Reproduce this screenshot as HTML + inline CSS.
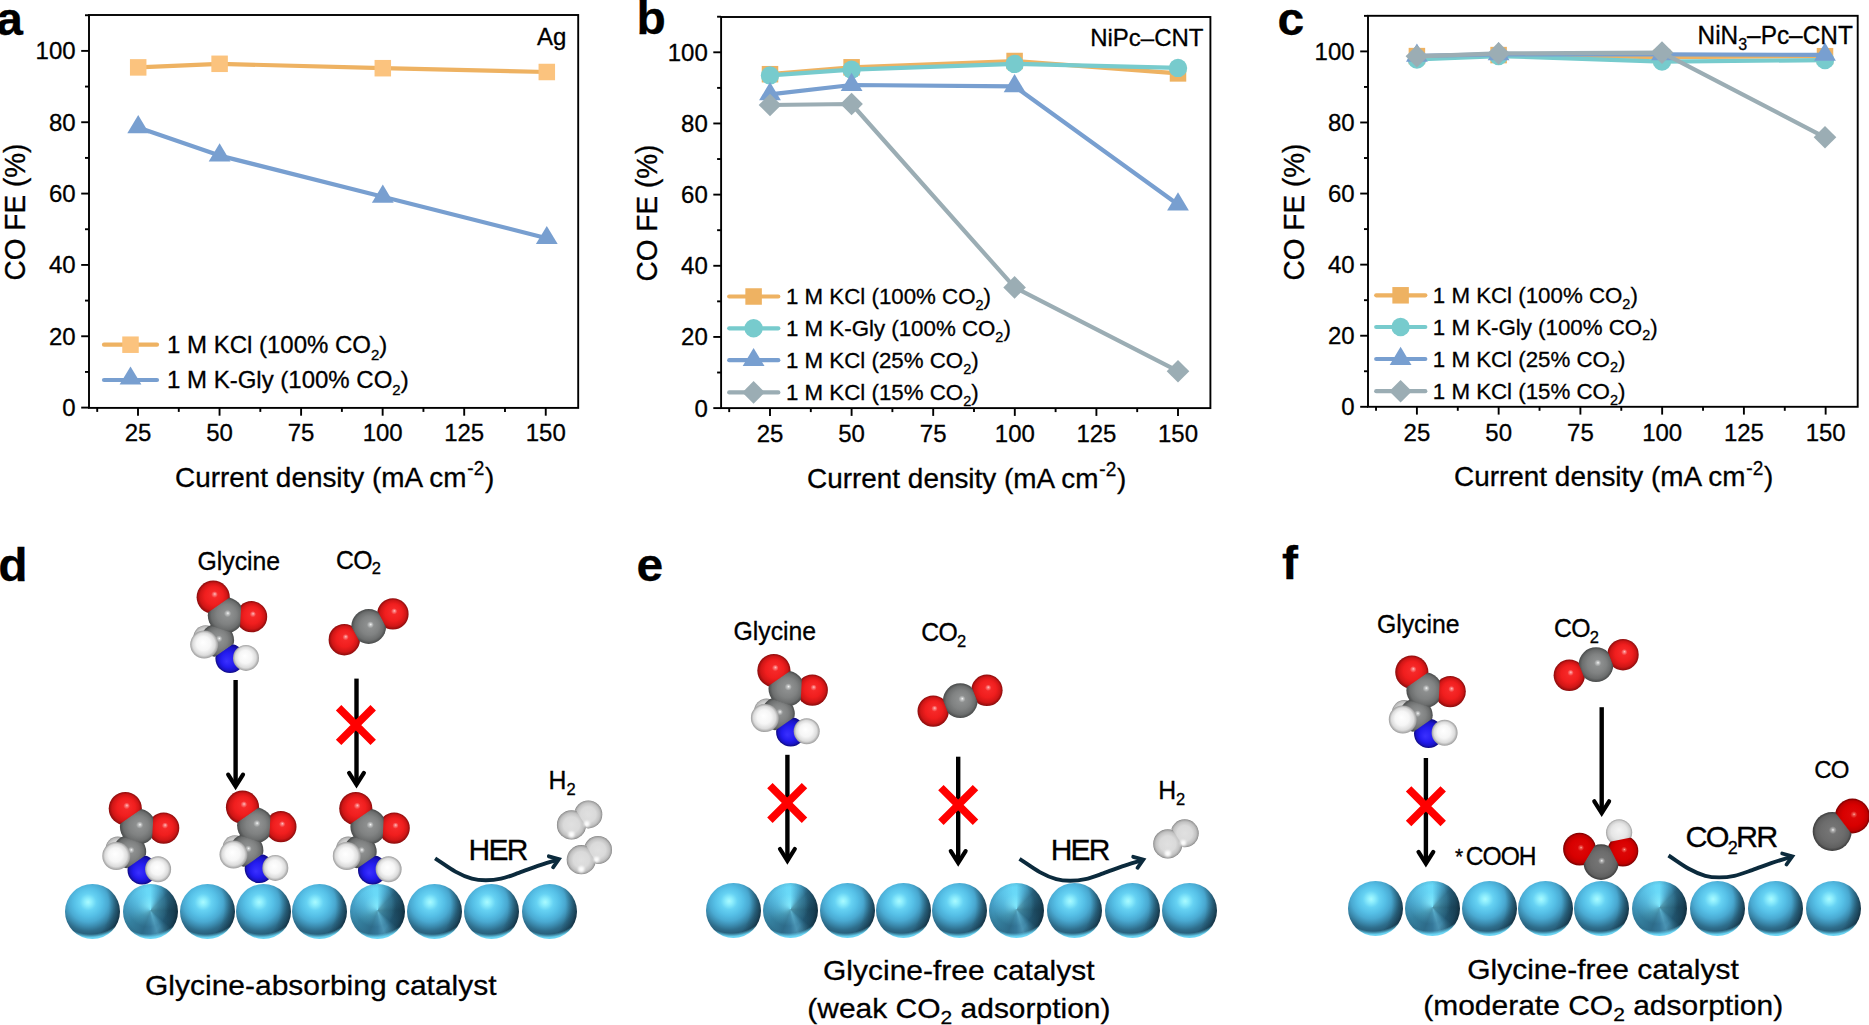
<!DOCTYPE html>
<html lang="en"><head><meta charset="utf-8"><title>Figure</title>
<style>
html,body{margin:0;padding:0;background:#fff;}
#fig{position:relative;width:1869px;height:1025px;overflow:hidden;background:#fff;font-family:"Liberation Sans", Arial, Helvetica, sans-serif;}
#fig svg{position:absolute;left:0;top:0;}
#fig svg text{font-family:"Liberation Sans", Arial, Helvetica, sans-serif;fill:#000;stroke:#000;stroke-width:0.3px;}
.sp{position:absolute;border-radius:50%;
 background:
  radial-gradient(circle 47px at 46% 15%, rgba(104,214,250,0) 89%, rgba(110,220,252,0.9) 96%, rgba(120,226,255,0.95) 100%),
  radial-gradient(circle 58px at 0% 40%, rgba(6,20,30,0) 76%, rgba(6,20,30,0.3) 90%, rgba(6,20,30,0.68) 100%),
  radial-gradient(circle 38px at 42% 33%, #aafaff 0%, #8eeefd 9%, #66d2f3 22%, #55bfe6 38%, #4aaad2 52%, #3c8db1 64%, #2e6d8b 76%, #265b76 88%, #1c4459 100%);
}
.sp.cone{
 background:
  radial-gradient(circle 47px at 46% 15%, rgba(104,214,250,0) 89%, rgba(110,220,252,0.9) 96%, rgba(120,226,255,0.95) 100%),
  radial-gradient(circle 58px at 0% 40%, rgba(6,20,30,0) 72%, rgba(6,20,30,0.3) 88%, rgba(6,20,30,0.7) 100%),
  radial-gradient(circle 30px at 46% 40%, rgba(150,245,255,0.55) 0%, rgba(120,230,255,0.25) 35%, rgba(0,0,0,0) 70%),
  radial-gradient(circle at 50% 50%, rgba(0,0,0,0) 60%, rgba(10,30,45,0.30) 100%),
  conic-gradient(from 0deg at 50% 48%, #66d6f6 0deg, #4aa8ce 20deg, #2c6a88 45deg, #1f5068 90deg, #235a76 130deg, #3f86a6 150deg, #4a93b3 163deg, #35789a 180deg, #2d6b89 200deg, #35809f 240deg, #459fc6 280deg, #58c0e6 320deg, #66d6f6 350deg, #66d6f6 360deg);
}
</style></head>
<body>
<div id="fig">
<div class="sp" style="left:64.9px;top:884.1px;width:55.0px;height:55.0px"></div>
<div class="sp cone" style="left:122.5px;top:884.1px;width:55.0px;height:55.0px"></div>
<div class="sp" style="left:180.1px;top:884.1px;width:55.0px;height:55.0px"></div>
<div class="sp" style="left:235.7px;top:884.1px;width:55.0px;height:55.0px"></div>
<div class="sp" style="left:292.3px;top:884.1px;width:55.0px;height:55.0px"></div>
<div class="sp cone" style="left:350.1px;top:884.1px;width:55.0px;height:55.0px"></div>
<div class="sp" style="left:407.3px;top:884.1px;width:55.0px;height:55.0px"></div>
<div class="sp" style="left:464.3px;top:884.1px;width:55.0px;height:55.0px"></div>
<div class="sp" style="left:522.1px;top:884.1px;width:55.0px;height:55.0px"></div>
<div class="sp" style="left:706.0px;top:882.9px;width:55.0px;height:55.0px"></div>
<div class="sp cone" style="left:762.7px;top:882.9px;width:55.0px;height:55.0px"></div>
<div class="sp" style="left:819.5px;top:882.9px;width:55.0px;height:55.0px"></div>
<div class="sp" style="left:875.7px;top:882.9px;width:55.0px;height:55.0px"></div>
<div class="sp" style="left:931.9px;top:882.9px;width:55.0px;height:55.0px"></div>
<div class="sp cone" style="left:989.3px;top:882.9px;width:55.0px;height:55.0px"></div>
<div class="sp" style="left:1047.1px;top:882.9px;width:55.0px;height:55.0px"></div>
<div class="sp" style="left:1104.5px;top:882.9px;width:55.0px;height:55.0px"></div>
<div class="sp" style="left:1162.3px;top:882.9px;width:55.0px;height:55.0px"></div>
<div class="sp" style="left:1347.8px;top:880.5px;width:55.0px;height:55.0px"></div>
<div class="sp cone" style="left:1404.7px;top:880.5px;width:55.0px;height:55.0px"></div>
<div class="sp" style="left:1462.3px;top:880.5px;width:55.0px;height:55.0px"></div>
<div class="sp" style="left:1517.7px;top:880.5px;width:55.0px;height:55.0px"></div>
<div class="sp" style="left:1574.3px;top:880.5px;width:55.0px;height:55.0px"></div>
<div class="sp cone" style="left:1631.9px;top:880.5px;width:55.0px;height:55.0px"></div>
<div class="sp" style="left:1689.5px;top:880.5px;width:55.0px;height:55.0px"></div>
<div class="sp" style="left:1747.5px;top:880.5px;width:55.0px;height:55.0px"></div>
<div class="sp" style="left:1805.5px;top:880.5px;width:55.0px;height:55.0px"></div>
<svg width="1869" height="1025" viewBox="0 0 1869 1025">

<defs>
<filter id="b1" x="-50%" y="-50%" width="200%" height="200%"><feGaussianBlur stdDeviation="0.9"/></filter>
<radialGradient id="gO" cx="0.5" cy="0.5" r="0.5" fx="0.55" fy="0.40">
 <stop offset="0" stop-color="#ffc4c4"/><stop offset="0.07" stop-color="#fb8080"/><stop offset="0.2" stop-color="#f62828"/><stop offset="0.55" stop-color="#f01e1e"/><stop offset="0.82" stop-color="#d01616"/><stop offset="1" stop-color="#8a0c0c"/>
</radialGradient>
<radialGradient id="gOd" cx="0.5" cy="0.5" r="0.5" fx="0.55" fy="0.45">
 <stop offset="0" stop-color="#ffb0a8"/><stop offset="0.07" stop-color="#ec5048"/><stop offset="0.2" stop-color="#dc0606"/><stop offset="0.6" stop-color="#d80000"/><stop offset="0.85" stop-color="#c00000"/><stop offset="1" stop-color="#780000"/>
</radialGradient>
<radialGradient id="gC" cx="0.5" cy="0.5" r="0.5" fx="0.56" fy="0.44">
 <stop offset="0" stop-color="#fafafa"/><stop offset="0.07" stop-color="#c4c6c6"/><stop offset="0.2" stop-color="#8d8f8f"/><stop offset="0.55" stop-color="#808282"/><stop offset="0.82" stop-color="#6c6e6e"/><stop offset="1" stop-color="#484a4a"/>
</radialGradient>
<radialGradient id="gCd" cx="0.5" cy="0.5" r="0.5" fx="0.52" fy="0.46">
 <stop offset="0" stop-color="#f4f4f4"/><stop offset="0.07" stop-color="#b0b0b0"/><stop offset="0.2" stop-color="#747474"/><stop offset="0.6" stop-color="#6c6c6c"/><stop offset="0.85" stop-color="#606060"/><stop offset="1" stop-color="#3c3c3c"/>
</radialGradient>
<radialGradient id="gH" cx="0.5" cy="0.5" r="0.5" fx="0.45" fy="0.42">
 <stop offset="0" stop-color="#ffffff"/><stop offset="0.5" stop-color="#f6f6f6"/><stop offset="0.8" stop-color="#dcdcdc"/><stop offset="1" stop-color="#9c9c9c"/>
</radialGradient>
<radialGradient id="gH3" cx="0.5" cy="0.5" r="0.5" fx="0.4" fy="0.35">
 <stop offset="0" stop-color="#dcdcdc"/><stop offset="0.6" stop-color="#cecece"/><stop offset="0.85" stop-color="#b8b8b8"/><stop offset="1" stop-color="#8c8c8c"/>
</radialGradient>
<radialGradient id="gH2" cx="0.5" cy="0.5" r="0.5" fx="0.5" fy="0.4">
 <stop offset="0" stop-color="#f4f4f4"/><stop offset="0.6" stop-color="#e6e6e6"/><stop offset="0.85" stop-color="#d0d0d0"/><stop offset="1" stop-color="#a0a0a0"/>
</radialGradient>
<radialGradient id="gN" cx="0.5" cy="0.5" r="0.5" fx="0.38" fy="0.6">
 <stop offset="0" stop-color="#3a30ff"/><stop offset="0.5" stop-color="#241cf0"/><stop offset="0.8" stop-color="#1a14c8"/><stop offset="1" stop-color="#0e0a80"/>
</radialGradient>
<radialGradient id="gL" cx="0.5" cy="0.5" r="0.5" fx="0.5" fy="0.5">
 <stop offset="0" stop-color="#e0e0e0"/><stop offset="0.55" stop-color="#dadada"/><stop offset="0.82" stop-color="#c2c2c2"/><stop offset="0.94" stop-color="#a4a4a4"/><stop offset="1" stop-color="#7c7c7c"/>
</radialGradient>
</defs>

<defs><g id="gly"><circle cx="-7.60" cy="40.20" r="12.20" fill="url(#gH3)"/><clipPath id="cp1"><polygon points="-60.00,-60.00 60.00,-60.00 60.00,-29.24 -60.00,54.29"/></clipPath><circle cx="0.00" cy="0.00" r="16.60" fill="url(#gO)" clip-path="url(#cp1)"/><clipPath id="cp2"><polygon points="29.93,-40.50 98.40,-40.50 98.40,79.50 23.42,79.50"/></clipPath><circle cx="38.40" cy="19.50" r="15.60" fill="url(#gO)" clip-path="url(#cp2)"/><clipPath id="cp3"><polygon points="76.80,6.51 76.80,121.30 -43.20,121.30 -43.20,90.05"/></clipPath><circle cx="16.80" cy="61.30" r="14.60" fill="url(#gN)" clip-path="url(#cp3)"/><clipPath id="cp4"><polygon points="-55.80,99.67 -55.80,9.69 31.49,38.91"/></clipPath><circle cx="4.20" cy="43.20" r="16.70" fill="url(#gC)" clip-path="url(#cp4)"/><clipPath id="cp5"><polygon points="-16.91,23.45 28.89,-8.44 26.38,37.93"/></clipPath><circle cx="12.60" cy="18.10" r="18.00" fill="url(#gC)" clip-path="url(#cp5)"/><circle cx="-9.00" cy="47.40" r="14.00" fill="url(#gH)"/><circle cx="32.80" cy="60.70" r="13.00" fill="url(#gH)"/></g></defs>
<rect x="89" y="15.0" width="489.20000000000005" height="392.9" fill="none" stroke="#000" stroke-width="1.9"/>
<line x1="81.2" y1="407.60" x2="89" y2="407.60" stroke="#000" stroke-width="1.9"/>
<text transform="translate(75.60,416.10) scale(1,1.02)" font-size="24" text-anchor="end" font-weight="normal" >0</text>
<line x1="85" y1="371.93" x2="89" y2="371.93" stroke="#000" stroke-width="1.9"/>
<line x1="81.2" y1="336.26" x2="89" y2="336.26" stroke="#000" stroke-width="1.9"/>
<text transform="translate(75.60,344.76) scale(1,1.02)" font-size="24" text-anchor="end" font-weight="normal" >20</text>
<line x1="85" y1="300.59" x2="89" y2="300.59" stroke="#000" stroke-width="1.9"/>
<line x1="81.2" y1="264.92" x2="89" y2="264.92" stroke="#000" stroke-width="1.9"/>
<text transform="translate(75.60,273.42) scale(1,1.02)" font-size="24" text-anchor="end" font-weight="normal" >40</text>
<line x1="85" y1="229.25" x2="89" y2="229.25" stroke="#000" stroke-width="1.9"/>
<line x1="81.2" y1="193.58" x2="89" y2="193.58" stroke="#000" stroke-width="1.9"/>
<text transform="translate(75.60,202.08) scale(1,1.02)" font-size="24" text-anchor="end" font-weight="normal" >60</text>
<line x1="85" y1="157.91" x2="89" y2="157.91" stroke="#000" stroke-width="1.9"/>
<line x1="81.2" y1="122.24" x2="89" y2="122.24" stroke="#000" stroke-width="1.9"/>
<text transform="translate(75.60,130.74) scale(1,1.02)" font-size="24" text-anchor="end" font-weight="normal" >80</text>
<line x1="85" y1="86.57" x2="89" y2="86.57" stroke="#000" stroke-width="1.9"/>
<line x1="81.2" y1="50.90" x2="89" y2="50.90" stroke="#000" stroke-width="1.9"/>
<text transform="translate(75.60,59.40) scale(1,1.02)" font-size="24" text-anchor="end" font-weight="normal" >100</text>
<line x1="85" y1="15.23" x2="89" y2="15.23" stroke="#000" stroke-width="1.9"/>
<line x1="97.22" y1="407.9" x2="97.22" y2="411.9" stroke="#000" stroke-width="1.9"/>
<line x1="138.00" y1="407.9" x2="138.00" y2="415.7" stroke="#000" stroke-width="1.9"/>
<text transform="translate(138.00,441.00) scale(1,1.02)" font-size="24" text-anchor="middle" font-weight="normal" >25</text>
<line x1="178.78" y1="407.9" x2="178.78" y2="411.9" stroke="#000" stroke-width="1.9"/>
<line x1="219.55" y1="407.9" x2="219.55" y2="415.7" stroke="#000" stroke-width="1.9"/>
<text transform="translate(219.55,441.00) scale(1,1.02)" font-size="24" text-anchor="middle" font-weight="normal" >50</text>
<line x1="260.32" y1="407.9" x2="260.32" y2="411.9" stroke="#000" stroke-width="1.9"/>
<line x1="301.10" y1="407.9" x2="301.10" y2="415.7" stroke="#000" stroke-width="1.9"/>
<text transform="translate(301.10,441.00) scale(1,1.02)" font-size="24" text-anchor="middle" font-weight="normal" >75</text>
<line x1="341.88" y1="407.9" x2="341.88" y2="411.9" stroke="#000" stroke-width="1.9"/>
<line x1="382.65" y1="407.9" x2="382.65" y2="415.7" stroke="#000" stroke-width="1.9"/>
<text transform="translate(382.65,441.00) scale(1,1.02)" font-size="24" text-anchor="middle" font-weight="normal" >100</text>
<line x1="423.43" y1="407.9" x2="423.43" y2="411.9" stroke="#000" stroke-width="1.9"/>
<line x1="464.20" y1="407.9" x2="464.20" y2="415.7" stroke="#000" stroke-width="1.9"/>
<text transform="translate(464.20,441.00) scale(1,1.02)" font-size="24" text-anchor="middle" font-weight="normal" >125</text>
<line x1="504.98" y1="407.9" x2="504.98" y2="411.9" stroke="#000" stroke-width="1.9"/>
<line x1="545.75" y1="407.9" x2="545.75" y2="415.7" stroke="#000" stroke-width="1.9"/>
<text transform="translate(545.75,441.00) scale(1,1.02)" font-size="24" text-anchor="middle" font-weight="normal" >150</text>
<text transform="translate(334.70,486.90) scale(1,1.02)" font-size="27.9" text-anchor="middle" font-weight="normal" >Current density (mA cm<tspan font-size="19" dy="-11.4" dx="0.8">-2</tspan><tspan dy="11.4" dx="0.8">)</tspan></text>
<text transform="translate(25.4,212) rotate(-90) scale(1,1.045)" font-size="28" text-anchor="middle">CO FE (%)</text>
<polyline points="138.20,67.40 219.60,63.80 382.80,68.20 546.80,72.00" fill="none" stroke="#EEB262" stroke-width="4.2" stroke-linejoin="round" stroke-linecap="round"/>
<rect x="129.95" y="59.15" width="16.5" height="16.5" fill="#FBC37E"/>
<rect x="211.35" y="55.55" width="16.5" height="16.5" fill="#FBC37E"/>
<rect x="374.55" y="59.95" width="16.5" height="16.5" fill="#FBC37E"/>
<rect x="538.55" y="63.75" width="16.5" height="16.5" fill="#FBC37E"/>
<polyline points="138.20,127.40 219.60,155.60 382.80,196.80 546.80,238.20" fill="none" stroke="#789FD0" stroke-width="4.2" stroke-linejoin="round" stroke-linecap="round"/>
<polygon points="138.20,115.10 127.30,133.30 149.10,133.30" fill="#789FD0"/>
<polygon points="219.60,143.30 208.70,161.50 230.50,161.50" fill="#789FD0"/>
<polygon points="382.80,184.50 371.90,202.70 393.70,202.70" fill="#789FD0"/>
<polygon points="546.80,225.90 535.90,244.10 557.70,244.10" fill="#789FD0"/>
<line x1="104" y1="344.7" x2="157" y2="344.7" stroke="#EEB262" stroke-width="4.2" stroke-linecap="round"/>
<rect x="122.25" y="336.45" width="16.5" height="16.5" fill="#FBC37E"/>
<text transform="translate(167.00,352.50) scale(1,1.02)" font-size="24" text-anchor="start" font-weight="normal" >1 M KCl (100% CO<tspan font-size="15" dy="7.0">2</tspan><tspan dy="-7.0">)</tspan></text>
<line x1="104" y1="380.0" x2="157" y2="380.0" stroke="#789FD0" stroke-width="4.2" stroke-linecap="round"/>
<polygon points="130.50,366.40 119.60,384.60 141.40,384.60" fill="#789FD0"/>
<text transform="translate(167.00,387.80) scale(1,1.02)" font-size="24" text-anchor="start" font-weight="normal" >1 M K-Gly (100% CO<tspan font-size="15" dy="7.0">2</tspan><tspan dy="-7.0">)</tspan></text>
<text transform="translate(566.30,44.80) scale(1,1.02)" font-size="24" text-anchor="end" font-weight="normal" >Ag</text>
<text transform="translate(-3.80,34.90) scale(1,0.965)" font-size="48" font-weight="bold">a</text>
<rect x="721.1" y="17.0" width="489.30000000000007" height="391.1" fill="none" stroke="#000" stroke-width="1.9"/>
<line x1="713.3000000000001" y1="408.10" x2="721.1" y2="408.10" stroke="#000" stroke-width="1.9"/>
<text transform="translate(707.80,416.60) scale(1,1.02)" font-size="24" text-anchor="end" font-weight="normal" >0</text>
<line x1="717.1" y1="372.52" x2="721.1" y2="372.52" stroke="#000" stroke-width="1.9"/>
<line x1="713.3000000000001" y1="336.94" x2="721.1" y2="336.94" stroke="#000" stroke-width="1.9"/>
<text transform="translate(707.80,345.44) scale(1,1.02)" font-size="24" text-anchor="end" font-weight="normal" >20</text>
<line x1="717.1" y1="301.36" x2="721.1" y2="301.36" stroke="#000" stroke-width="1.9"/>
<line x1="713.3000000000001" y1="265.78" x2="721.1" y2="265.78" stroke="#000" stroke-width="1.9"/>
<text transform="translate(707.80,274.28) scale(1,1.02)" font-size="24" text-anchor="end" font-weight="normal" >40</text>
<line x1="717.1" y1="230.20" x2="721.1" y2="230.20" stroke="#000" stroke-width="1.9"/>
<line x1="713.3000000000001" y1="194.62" x2="721.1" y2="194.62" stroke="#000" stroke-width="1.9"/>
<text transform="translate(707.80,203.12) scale(1,1.02)" font-size="24" text-anchor="end" font-weight="normal" >60</text>
<line x1="717.1" y1="159.04" x2="721.1" y2="159.04" stroke="#000" stroke-width="1.9"/>
<line x1="713.3000000000001" y1="123.46" x2="721.1" y2="123.46" stroke="#000" stroke-width="1.9"/>
<text transform="translate(707.80,131.96) scale(1,1.02)" font-size="24" text-anchor="end" font-weight="normal" >80</text>
<line x1="717.1" y1="87.88" x2="721.1" y2="87.88" stroke="#000" stroke-width="1.9"/>
<line x1="713.3000000000001" y1="52.30" x2="721.1" y2="52.30" stroke="#000" stroke-width="1.9"/>
<text transform="translate(707.80,60.80) scale(1,1.02)" font-size="24" text-anchor="end" font-weight="normal" >100</text>
<line x1="717.1" y1="16.72" x2="721.1" y2="16.72" stroke="#000" stroke-width="1.9"/>
<line x1="729.20" y1="408.1" x2="729.20" y2="412.1" stroke="#000" stroke-width="1.9"/>
<line x1="770.00" y1="408.1" x2="770.00" y2="415.90000000000003" stroke="#000" stroke-width="1.9"/>
<text transform="translate(770.00,441.70) scale(1,1.02)" font-size="24" text-anchor="middle" font-weight="normal" >25</text>
<line x1="810.80" y1="408.1" x2="810.80" y2="412.1" stroke="#000" stroke-width="1.9"/>
<line x1="851.60" y1="408.1" x2="851.60" y2="415.90000000000003" stroke="#000" stroke-width="1.9"/>
<text transform="translate(851.60,441.70) scale(1,1.02)" font-size="24" text-anchor="middle" font-weight="normal" >50</text>
<line x1="892.40" y1="408.1" x2="892.40" y2="412.1" stroke="#000" stroke-width="1.9"/>
<line x1="933.20" y1="408.1" x2="933.20" y2="415.90000000000003" stroke="#000" stroke-width="1.9"/>
<text transform="translate(933.20,441.70) scale(1,1.02)" font-size="24" text-anchor="middle" font-weight="normal" >75</text>
<line x1="974.00" y1="408.1" x2="974.00" y2="412.1" stroke="#000" stroke-width="1.9"/>
<line x1="1014.80" y1="408.1" x2="1014.80" y2="415.90000000000003" stroke="#000" stroke-width="1.9"/>
<text transform="translate(1014.80,441.70) scale(1,1.02)" font-size="24" text-anchor="middle" font-weight="normal" >100</text>
<line x1="1055.60" y1="408.1" x2="1055.60" y2="412.1" stroke="#000" stroke-width="1.9"/>
<line x1="1096.40" y1="408.1" x2="1096.40" y2="415.90000000000003" stroke="#000" stroke-width="1.9"/>
<text transform="translate(1096.40,441.70) scale(1,1.02)" font-size="24" text-anchor="middle" font-weight="normal" >125</text>
<line x1="1137.20" y1="408.1" x2="1137.20" y2="412.1" stroke="#000" stroke-width="1.9"/>
<line x1="1178.00" y1="408.1" x2="1178.00" y2="415.90000000000003" stroke="#000" stroke-width="1.9"/>
<text transform="translate(1178.00,441.70) scale(1,1.02)" font-size="24" text-anchor="middle" font-weight="normal" >150</text>
<text transform="translate(966.70,487.60) scale(1,1.02)" font-size="27.9" text-anchor="middle" font-weight="normal" >Current density (mA cm<tspan font-size="19" dy="-11.4" dx="0.8">-2</tspan><tspan dy="11.4" dx="0.8">)</tspan></text>
<text transform="translate(657.4,213) rotate(-90) scale(1,1.045)" font-size="28" text-anchor="middle">CO FE (%)</text>
<polyline points="770.00,74.20 851.60,67.30 1014.60,61.00 1178.00,73.40" fill="none" stroke="#EEB262" stroke-width="4.2" stroke-linejoin="round" stroke-linecap="round"/>
<rect x="761.75" y="65.95" width="16.5" height="16.5" fill="#EEB262"/>
<rect x="843.35" y="59.05" width="16.5" height="16.5" fill="#EEB262"/>
<rect x="1006.35" y="52.75" width="16.5" height="16.5" fill="#EEB262"/>
<rect x="1169.75" y="65.15" width="16.5" height="16.5" fill="#EEB262"/>
<polyline points="770.00,75.40 851.60,69.70 1014.60,63.90 1178.00,67.90" fill="none" stroke="#77CBCD" stroke-width="4.2" stroke-linejoin="round" stroke-linecap="round"/>
<circle cx="770.00" cy="75.40" r="9.2" fill="#77CBCD"/>
<circle cx="851.60" cy="69.70" r="9.2" fill="#77CBCD"/>
<circle cx="1014.60" cy="63.90" r="9.2" fill="#77CBCD"/>
<circle cx="1178.00" cy="67.90" r="9.2" fill="#77CBCD"/>
<polyline points="770.00,94.40 851.60,85.00 1014.60,86.40 1178.00,204.50" fill="none" stroke="#789FD0" stroke-width="4.2" stroke-linejoin="round" stroke-linecap="round"/>
<polygon points="770.00,82.10 759.10,100.30 780.90,100.30" fill="#789FD0"/>
<polygon points="851.60,72.70 840.70,90.90 862.50,90.90" fill="#789FD0"/>
<polygon points="1014.60,74.10 1003.70,92.30 1025.50,92.30" fill="#789FD0"/>
<polygon points="1178.00,192.20 1167.10,210.40 1188.90,210.40" fill="#789FD0"/>
<polyline points="770.00,105.00 851.60,104.00 1014.60,287.40 1178.00,371.20" fill="none" stroke="#9BADB4" stroke-width="4.2" stroke-linejoin="round" stroke-linecap="round"/>
<polygon points="770.00,93.70 781.30,105.00 770.00,116.30 758.70,105.00" fill="#9BADB4"/>
<polygon points="851.60,92.70 862.90,104.00 851.60,115.30 840.30,104.00" fill="#9BADB4"/>
<polygon points="1014.60,276.10 1025.90,287.40 1014.60,298.70 1003.30,287.40" fill="#9BADB4"/>
<polygon points="1178.00,359.90 1189.30,371.20 1178.00,382.50 1166.70,371.20" fill="#9BADB4"/>
<line x1="729.2" y1="296.5" x2="778.3" y2="296.5" stroke="#EEB262" stroke-width="4.2" stroke-linecap="round"/>
<rect x="745.35" y="288.25" width="16.5" height="16.5" fill="#EEB262"/>
<text transform="translate(786.00,304.30) scale(1,1.02)" font-size="22.3" text-anchor="start" font-weight="normal" >1 M KCl (100% CO<tspan font-size="14.5" dy="5.4">2</tspan><tspan dy="-5.4">)</tspan></text>
<line x1="729.2" y1="328.3" x2="778.3" y2="328.3" stroke="#77CBCD" stroke-width="4.2" stroke-linecap="round"/>
<circle cx="753.60" cy="328.30" r="9.2" fill="#77CBCD"/>
<text transform="translate(786.00,336.10) scale(1,1.02)" font-size="22.3" text-anchor="start" font-weight="normal" >1 M K-Gly (100% CO<tspan font-size="14.5" dy="5.4">2</tspan><tspan dy="-5.4">)</tspan></text>
<line x1="729.2" y1="360.2" x2="778.3" y2="360.2" stroke="#789FD0" stroke-width="4.2" stroke-linecap="round"/>
<polygon points="753.60,347.90 742.70,366.10 764.50,366.10" fill="#789FD0"/>
<text transform="translate(786.00,368.00) scale(1,1.02)" font-size="22.3" text-anchor="start" font-weight="normal" >1 M KCl (25% CO<tspan font-size="14.5" dy="5.4">2</tspan><tspan dy="-5.4">)</tspan></text>
<line x1="729.2" y1="392.4" x2="778.3" y2="392.4" stroke="#9BADB4" stroke-width="4.2" stroke-linecap="round"/>
<polygon points="753.60,381.10 764.90,392.40 753.60,403.70 742.30,392.40" fill="#9BADB4"/>
<text transform="translate(786.00,400.20) scale(1,1.02)" font-size="22.3" text-anchor="start" font-weight="normal" >1 M KCl (15% CO<tspan font-size="14.5" dy="5.4">2</tspan><tspan dy="-5.4">)</tspan></text>
<text transform="translate(1203.50,45.80) scale(1,1.02)" font-size="24" text-anchor="end" font-weight="normal" >NiPc–CNT</text>
<text transform="translate(636.50,34.40) scale(1,0.965)" font-size="48" font-weight="bold">b</text>
<rect x="1368.0" y="15.8" width="489.70000000000005" height="391.0" fill="none" stroke="#000" stroke-width="1.9"/>
<line x1="1360.2" y1="406.80" x2="1368.0" y2="406.80" stroke="#000" stroke-width="1.9"/>
<text transform="translate(1354.60,415.30) scale(1,1.02)" font-size="24" text-anchor="end" font-weight="normal" >0</text>
<line x1="1364.0" y1="371.26" x2="1368.0" y2="371.26" stroke="#000" stroke-width="1.9"/>
<line x1="1360.2" y1="335.72" x2="1368.0" y2="335.72" stroke="#000" stroke-width="1.9"/>
<text transform="translate(1354.60,344.22) scale(1,1.02)" font-size="24" text-anchor="end" font-weight="normal" >20</text>
<line x1="1364.0" y1="300.18" x2="1368.0" y2="300.18" stroke="#000" stroke-width="1.9"/>
<line x1="1360.2" y1="264.64" x2="1368.0" y2="264.64" stroke="#000" stroke-width="1.9"/>
<text transform="translate(1354.60,273.14) scale(1,1.02)" font-size="24" text-anchor="end" font-weight="normal" >40</text>
<line x1="1364.0" y1="229.10" x2="1368.0" y2="229.10" stroke="#000" stroke-width="1.9"/>
<line x1="1360.2" y1="193.56" x2="1368.0" y2="193.56" stroke="#000" stroke-width="1.9"/>
<text transform="translate(1354.60,202.06) scale(1,1.02)" font-size="24" text-anchor="end" font-weight="normal" >60</text>
<line x1="1364.0" y1="158.02" x2="1368.0" y2="158.02" stroke="#000" stroke-width="1.9"/>
<line x1="1360.2" y1="122.48" x2="1368.0" y2="122.48" stroke="#000" stroke-width="1.9"/>
<text transform="translate(1354.60,130.98) scale(1,1.02)" font-size="24" text-anchor="end" font-weight="normal" >80</text>
<line x1="1364.0" y1="86.94" x2="1368.0" y2="86.94" stroke="#000" stroke-width="1.9"/>
<line x1="1360.2" y1="51.40" x2="1368.0" y2="51.40" stroke="#000" stroke-width="1.9"/>
<text transform="translate(1354.60,59.90) scale(1,1.02)" font-size="24" text-anchor="end" font-weight="normal" >100</text>
<line x1="1364.0" y1="15.86" x2="1368.0" y2="15.86" stroke="#000" stroke-width="1.9"/>
<line x1="1376.03" y1="406.8" x2="1376.03" y2="410.8" stroke="#000" stroke-width="1.9"/>
<line x1="1416.90" y1="406.8" x2="1416.90" y2="414.6" stroke="#000" stroke-width="1.9"/>
<text transform="translate(1416.90,440.60) scale(1,1.02)" font-size="24" text-anchor="middle" font-weight="normal" >25</text>
<line x1="1457.78" y1="406.8" x2="1457.78" y2="410.8" stroke="#000" stroke-width="1.9"/>
<line x1="1498.65" y1="406.8" x2="1498.65" y2="414.6" stroke="#000" stroke-width="1.9"/>
<text transform="translate(1498.65,440.60) scale(1,1.02)" font-size="24" text-anchor="middle" font-weight="normal" >50</text>
<line x1="1539.53" y1="406.8" x2="1539.53" y2="410.8" stroke="#000" stroke-width="1.9"/>
<line x1="1580.40" y1="406.8" x2="1580.40" y2="414.6" stroke="#000" stroke-width="1.9"/>
<text transform="translate(1580.40,440.60) scale(1,1.02)" font-size="24" text-anchor="middle" font-weight="normal" >75</text>
<line x1="1621.28" y1="406.8" x2="1621.28" y2="410.8" stroke="#000" stroke-width="1.9"/>
<line x1="1662.15" y1="406.8" x2="1662.15" y2="414.6" stroke="#000" stroke-width="1.9"/>
<text transform="translate(1662.15,440.60) scale(1,1.02)" font-size="24" text-anchor="middle" font-weight="normal" >100</text>
<line x1="1703.03" y1="406.8" x2="1703.03" y2="410.8" stroke="#000" stroke-width="1.9"/>
<line x1="1743.90" y1="406.8" x2="1743.90" y2="414.6" stroke="#000" stroke-width="1.9"/>
<text transform="translate(1743.90,440.60) scale(1,1.02)" font-size="24" text-anchor="middle" font-weight="normal" >125</text>
<line x1="1784.78" y1="406.8" x2="1784.78" y2="410.8" stroke="#000" stroke-width="1.9"/>
<line x1="1825.65" y1="406.8" x2="1825.65" y2="414.6" stroke="#000" stroke-width="1.9"/>
<text transform="translate(1825.65,440.60) scale(1,1.02)" font-size="24" text-anchor="middle" font-weight="normal" >150</text>
<text transform="translate(1613.70,486.40) scale(1,1.02)" font-size="27.9" text-anchor="middle" font-weight="normal" >Current density (mA cm<tspan font-size="19" dy="-11.4" dx="0.8">-2</tspan><tspan dy="11.4" dx="0.8">)</tspan></text>
<text transform="translate(1304.2,212) rotate(-90) scale(1,1.045)" font-size="28" text-anchor="middle">CO FE (%)</text>
<polyline points="1416.90,56.10 1498.60,55.10 1662.00,57.20 1825.00,56.20" fill="none" stroke="#EEB262" stroke-width="4.2" stroke-linejoin="round" stroke-linecap="round"/>
<rect x="1408.65" y="47.85" width="16.5" height="16.5" fill="#EEB262"/>
<rect x="1490.35" y="46.85" width="16.5" height="16.5" fill="#EEB262"/>
<rect x="1653.75" y="48.95" width="16.5" height="16.5" fill="#EEB262"/>
<rect x="1816.75" y="47.95" width="16.5" height="16.5" fill="#EEB262"/>
<polyline points="1416.90,59.50 1498.60,56.10 1662.00,61.60 1825.00,60.10" fill="none" stroke="#77CBCD" stroke-width="4.2" stroke-linejoin="round" stroke-linecap="round"/>
<circle cx="1416.90" cy="59.50" r="9.2" fill="#77CBCD"/>
<circle cx="1498.60" cy="56.10" r="9.2" fill="#77CBCD"/>
<circle cx="1662.00" cy="61.60" r="9.2" fill="#77CBCD"/>
<circle cx="1825.00" cy="60.10" r="9.2" fill="#77CBCD"/>
<polyline points="1416.90,55.80 1498.60,54.40 1662.00,54.40 1825.00,54.90" fill="none" stroke="#789FD0" stroke-width="4.2" stroke-linejoin="round" stroke-linecap="round"/>
<polygon points="1416.90,43.50 1406.00,61.70 1427.80,61.70" fill="#789FD0"/>
<polygon points="1498.60,42.10 1487.70,60.30 1509.50,60.30" fill="#789FD0"/>
<polygon points="1662.00,42.10 1651.10,60.30 1672.90,60.30" fill="#789FD0"/>
<polygon points="1825.00,42.60 1814.10,60.80 1835.90,60.80" fill="#789FD0"/>
<polyline points="1416.90,56.30 1498.60,53.40 1662.00,52.60 1825.00,137.30" fill="none" stroke="#9BADB4" stroke-width="4.2" stroke-linejoin="round" stroke-linecap="round"/>
<polygon points="1416.90,45.00 1428.20,56.30 1416.90,67.60 1405.60,56.30" fill="#9BADB4"/>
<polygon points="1498.60,42.10 1509.90,53.40 1498.60,64.70 1487.30,53.40" fill="#9BADB4"/>
<polygon points="1662.00,41.30 1673.30,52.60 1662.00,63.90 1650.70,52.60" fill="#9BADB4"/>
<polygon points="1825.00,126.00 1836.30,137.30 1825.00,148.60 1813.70,137.30" fill="#9BADB4"/>
<line x1="1376.2" y1="295.3" x2="1425.3" y2="295.3" stroke="#EEB262" stroke-width="4.2" stroke-linecap="round"/>
<rect x="1392.35" y="287.05" width="16.5" height="16.5" fill="#EEB262"/>
<text transform="translate(1432.80,303.10) scale(1,1.02)" font-size="22.3" text-anchor="start" font-weight="normal" >1 M KCl (100% CO<tspan font-size="14.5" dy="5.4">2</tspan><tspan dy="-5.4">)</tspan></text>
<line x1="1376.2" y1="327.0" x2="1425.3" y2="327.0" stroke="#77CBCD" stroke-width="4.2" stroke-linecap="round"/>
<circle cx="1400.60" cy="327.00" r="9.2" fill="#77CBCD"/>
<text transform="translate(1432.80,334.80) scale(1,1.02)" font-size="22.3" text-anchor="start" font-weight="normal" >1 M K-Gly (100% CO<tspan font-size="14.5" dy="5.4">2</tspan><tspan dy="-5.4">)</tspan></text>
<line x1="1376.2" y1="359.0" x2="1425.3" y2="359.0" stroke="#789FD0" stroke-width="4.2" stroke-linecap="round"/>
<polygon points="1400.60,346.70 1389.70,364.90 1411.50,364.90" fill="#789FD0"/>
<text transform="translate(1432.80,366.80) scale(1,1.02)" font-size="22.3" text-anchor="start" font-weight="normal" >1 M KCl (25% CO<tspan font-size="14.5" dy="5.4">2</tspan><tspan dy="-5.4">)</tspan></text>
<line x1="1376.2" y1="391.2" x2="1425.3" y2="391.2" stroke="#9BADB4" stroke-width="4.2" stroke-linecap="round"/>
<polygon points="1400.60,379.90 1411.90,391.20 1400.60,402.50 1389.30,391.20" fill="#9BADB4"/>
<text transform="translate(1432.80,399.00) scale(1,1.02)" font-size="22.3" text-anchor="start" font-weight="normal" >1 M KCl (15% CO<tspan font-size="14.5" dy="5.4">2</tspan><tspan dy="-5.4">)</tspan></text>
<text transform="translate(1852.80,43.50) scale(1,1.02)" font-size="24.4" text-anchor="end" font-weight="normal" >NiN<tspan font-size="16" dy="6">3</tspan><tspan dy="-6">–Pc–CNT</tspan></text>
<text transform="translate(1277.40,34.80) scale(1,0.965)" font-size="48" font-weight="bold">c</text>
<text transform="translate(-1.70,580.60) scale(1,0.965)" font-size="48" font-weight="bold">d</text>
<text transform="translate(197.50,569.60) scale(1,1.02)" font-size="24.8" text-anchor="start" font-weight="normal" >Glycine</text>
<text transform="translate(336.00,568.80) scale(1,1.02)" font-size="24.8" text-anchor="start" font-weight="normal" letter-spacing="-0.7">CO<tspan font-size="16.5" dy="5.3">2</tspan></text>
<use href="#gly" x="213.20" y="597.20"/>
<clipPath id="cp6"><polygon points="284.30,579.70 326.86,579.70 391.77,699.70 284.30,699.70"/></clipPath>
<circle cx="344.30" cy="639.70" r="15.70" fill="url(#gO)" clip-path="url(#cp6)"/>
<clipPath id="cp7"><polygon points="347.05,553.90 452.90,553.90 452.90,673.90 409.53,673.90"/></clipPath>
<circle cx="392.90" cy="613.90" r="15.70" fill="url(#gO)" clip-path="url(#cp7)"/>
<clipPath id="cp8"><polygon points="318.92,566.50 354.40,566.50 416.88,686.50 383.84,686.50"/></clipPath>
<circle cx="368.70" cy="626.50" r="17.40" fill="url(#gC)" clip-path="url(#cp8)"/>
<line x1="235.6" y1="680" x2="235.6" y2="785.2" stroke="#000" stroke-width="4.4"/>
<polyline points="228.2,774.6 235.6,786.3000000000001 243.0,774.6" fill="none" stroke="#000" stroke-width="4.2" stroke-linecap="round" stroke-linejoin="miter"/>
<line x1="356.5" y1="678.6" x2="356.5" y2="783.5" stroke="#000" stroke-width="4.4"/>
<polyline points="349.1,772.9 356.5,784.6 363.9,772.9" fill="none" stroke="#000" stroke-width="4.2" stroke-linecap="round" stroke-linejoin="miter"/>
<path d="M338.59999999999997,707.8000000000001 L373.2,742.4 M373.2,707.8000000000001 L338.59999999999997,742.4" stroke="#FF0000" stroke-width="7.7" fill="none"/>
<use href="#gly" x="125.30" y="808.60"/>
<use href="#gly" x="242.50" y="807.20"/>
<use href="#gly" x="355.80" y="808.60"/>
<path d="M435.1,858.3 C441.9,862.7 449.3,868.2 455.4,871.6 C461.5,875.0 466.8,877.2 471.9,878.6 C477.0,880.0 480.9,880.2 485.8,880.2 C490.7,880.2 495.5,879.8 501.0,878.6 C506.5,877.4 512.7,875.0 518.8,872.9 C524.9,870.8 531.2,868.2 537.8,865.9 C544.4,863.6 551.7,861.5 558.6,859.3" fill="none" stroke="#0B2A3C" stroke-width="3.9" stroke-linecap="butt"/>
<polyline points="553.1,867.3 558.9,859.2 548.8,856.3" fill="none" stroke="#0B2A3C" stroke-width="3.8" stroke-linecap="round" stroke-linejoin="miter" stroke-miterlimit="10"/>
<text transform="translate(468.60,859.70) scale(1,0.965)" font-size="30" text-anchor="start" font-weight="normal" letter-spacing="-1.8">HER</text>
<text transform="translate(548.50,788.60) scale(1,1.02)" font-size="24.8" text-anchor="start" font-weight="normal" >H<tspan font-size="16.5" dy="6.2">2</tspan></text>
<clipPath id="cp9"><polygon points="540.16,754.40 648.30,754.40 648.30,874.40 615.16,874.40"/></clipPath>
<circle cx="588.30" cy="814.40" r="14.00" fill="url(#gL)" clip-path="url(#cp9)"/>
<clipPath id="cp10"><polygon points="511.50,764.90 547.55,764.90 622.55,884.90 511.50,884.90"/></clipPath>
<circle cx="571.50" cy="824.90" r="14.60" fill="url(#gL)" clip-path="url(#cp10)"/>
<circle cx="586.80" cy="824.00" r="2.9" fill="#fff" opacity="0.95" filter="url(#b1)"/>
<circle cx="571.50" cy="834.50" r="3.1" fill="#fff" opacity="0.95" filter="url(#b1)"/>
<clipPath id="cp11"><polygon points="553.02,790.00 658.00,790.00 658.00,910.00 622.72,910.00"/></clipPath>
<circle cx="598.00" cy="850.00" r="14.00" fill="url(#gL)" clip-path="url(#cp11)"/>
<clipPath id="cp12"><polygon points="521.30,799.70 559.46,799.70 629.16,919.70 521.30,919.70"/></clipPath>
<circle cx="581.30" cy="859.70" r="14.60" fill="url(#gL)" clip-path="url(#cp12)"/>
<circle cx="596.50" cy="859.60" r="2.9" fill="#fff" opacity="0.95" filter="url(#b1)"/>
<circle cx="581.30" cy="869.30" r="3.1" fill="#fff" opacity="0.95" filter="url(#b1)"/>
<text transform="translate(320.80,995.40) scale(1,0.9)" font-size="30" text-anchor="middle" font-weight="normal" >Glycine-absorbing catalyst</text>
<text transform="translate(636.50,580.70) scale(1,0.965)" font-size="48" font-weight="bold">e</text>
<text transform="translate(733.50,639.70) scale(1,1.02)" font-size="24.8" text-anchor="start" font-weight="normal" >Glycine</text>
<text transform="translate(921.30,641.40) scale(1,1.02)" font-size="24.8" text-anchor="start" font-weight="normal" letter-spacing="-0.7">CO<tspan font-size="16.5" dy="5.5">2</tspan></text>
<use href="#gly" x="773.90" y="670.60"/>
<clipPath id="cp13"><polygon points="873.20,651.10 925.06,651.10 971.11,771.10 873.20,771.10"/></clipPath>
<circle cx="933.20" cy="711.10" r="15.70" fill="url(#gO)" clip-path="url(#cp13)"/>
<clipPath id="cp14"><polygon points="948.79,630.30 1046.90,630.30 1046.90,750.30 995.71,750.30"/></clipPath>
<circle cx="986.90" cy="690.30" r="15.70" fill="url(#gO)" clip-path="url(#cp14)"/>
<clipPath id="cp15"><polygon points="920.32,640.70 953.61,640.70 1000.53,760.70 966.37,760.70"/></clipPath>
<circle cx="960.30" cy="700.70" r="17.40" fill="url(#gC)" clip-path="url(#cp15)"/>
<line x1="787.4" y1="754.8" x2="787.4" y2="859.6" stroke="#000" stroke-width="4.4"/>
<polyline points="780.0,849.0 787.4,860.7 794.8,849.0" fill="none" stroke="#000" stroke-width="4.2" stroke-linecap="round" stroke-linejoin="miter"/>
<path d="M769.9000000000001,785.6 L804.5,820.1999999999999 M804.5,785.6 L769.9000000000001,820.1999999999999" stroke="#FF0000" stroke-width="7.7" fill="none"/>
<line x1="958.2" y1="756.7" x2="958.2" y2="861.7" stroke="#000" stroke-width="4.4"/>
<polyline points="950.8000000000001,851.1 958.2,862.8000000000001 965.6,851.1" fill="none" stroke="#000" stroke-width="4.2" stroke-linecap="round" stroke-linejoin="miter"/>
<path d="M940.9000000000001,787.6 L975.5,822.1999999999999 M975.5,787.6 L940.9000000000001,822.1999999999999" stroke="#FF0000" stroke-width="7.7" fill="none"/>
<path d="M1019.5,858.8 C1026.3,863.2 1033.7,868.7 1039.8,872.1 C1045.9,875.5 1051.2,877.7 1056.3,879.1 C1061.4,880.5 1065.3,880.7 1070.2,880.7 C1075.1,880.7 1079.9,880.3 1085.4,879.1 C1090.9,877.9 1097.1,875.5 1103.2,873.4 C1109.3,871.3 1115.6,868.7 1122.2,866.4 C1128.8,864.1 1136.1,862.0 1143.0,859.8" fill="none" stroke="#0B2A3C" stroke-width="3.9" stroke-linecap="butt"/>
<polyline points="1137.5,867.8 1143.3,859.7 1133.2,856.8" fill="none" stroke="#0B2A3C" stroke-width="3.8" stroke-linecap="round" stroke-linejoin="miter" stroke-miterlimit="10"/>
<text transform="translate(1050.70,859.80) scale(1,0.965)" font-size="30" text-anchor="start" font-weight="normal" letter-spacing="-1.8">HER</text>
<text transform="translate(1158.20,798.60) scale(1,1.02)" font-size="24.8" text-anchor="start" font-weight="normal" >H<tspan font-size="16.5" dy="6.2">2</tspan></text>
<clipPath id="cp16"><polygon points="1136.33,773.30 1244.70,773.30 1244.70,893.30 1211.60,893.30"/></clipPath>
<circle cx="1184.70" cy="833.30" r="14.00" fill="url(#gL)" clip-path="url(#cp16)"/>
<clipPath id="cp17"><polygon points="1107.80,783.90 1143.81,783.90 1219.07,903.90 1107.80,903.90"/></clipPath>
<circle cx="1167.80" cy="843.90" r="14.60" fill="url(#gL)" clip-path="url(#cp17)"/>
<circle cx="1183.20" cy="842.90" r="2.9" fill="#fff" opacity="0.95" filter="url(#b1)"/>
<circle cx="1167.80" cy="853.50" r="3.1" fill="#fff" opacity="0.95" filter="url(#b1)"/>
<text transform="translate(958.80,980.20) scale(1,0.9)" font-size="30" text-anchor="middle" font-weight="normal" >Glycine-free catalyst</text>
<text transform="translate(958.90,1017.80) scale(1,0.9)" font-size="30" text-anchor="middle" font-weight="normal" >(weak CO<tspan font-size="21" dy="6.8">2</tspan><tspan dy="-6.8"> adsorption)</tspan></text>
<text transform="translate(1282.00,578.60) scale(1,0.965)" font-size="48" font-weight="bold">f</text>
<text transform="translate(1376.90,632.90) scale(1,1.02)" font-size="24.8" text-anchor="start" font-weight="normal" >Glycine</text>
<text transform="translate(1554.00,637.40) scale(1,1.02)" font-size="24.8" text-anchor="start" font-weight="normal" letter-spacing="-0.7">CO<tspan font-size="16.5" dy="5.5">2</tspan></text>
<use href="#gly" x="1411.80" y="672.10"/>
<clipPath id="cp18"><polygon points="1509.30,615.30 1560.26,615.30 1607.90,735.30 1509.30,735.30"/></clipPath>
<circle cx="1569.30" cy="675.30" r="15.70" fill="url(#gO)" clip-path="url(#cp18)"/>
<clipPath id="cp19"><polygon points="1586.09,594.70 1683.00,594.70 1683.00,714.70 1630.54,714.70"/></clipPath>
<circle cx="1623.00" cy="654.70" r="15.70" fill="url(#gO)" clip-path="url(#cp19)"/>
<clipPath id="cp20"><polygon points="1555.30,604.70 1590.54,604.70 1634.99,724.70 1602.94,724.70"/></clipPath>
<circle cx="1596.00" cy="664.70" r="17.40" fill="url(#gC)" clip-path="url(#cp20)"/>
<line x1="1425.9" y1="758" x2="1425.9" y2="862.5" stroke="#000" stroke-width="4.4"/>
<polyline points="1418.5,851.9 1425.9,863.6 1433.3000000000002,851.9" fill="none" stroke="#000" stroke-width="4.2" stroke-linecap="round" stroke-linejoin="miter"/>
<path d="M1408.6000000000001,788.9000000000001 L1443.2,823.5 M1443.2,788.9000000000001 L1408.6000000000001,823.5" stroke="#FF0000" stroke-width="7.7" fill="none"/>
<line x1="1601.7" y1="707.2" x2="1601.7" y2="811.9" stroke="#000" stroke-width="4.4"/>
<polyline points="1594.3,801.3 1601.7,813.0 1609.1000000000001,801.3" fill="none" stroke="#000" stroke-width="4.2" stroke-linecap="round" stroke-linejoin="miter"/>
<text transform="translate(1455.00,865.10) scale(1,1.02)" font-size="24.6" text-anchor="start" font-weight="normal" letter-spacing="-1.0"><tspan font-size="21" dy="-1">*</tspan><tspan dy="1" dx="3.6">COOH</tspan></text>
<clipPath id="cp21"><polygon points="1559.10,772.40 1679.10,772.40 1679.10,828.43 1559.10,852.94"/></clipPath>
<circle cx="1619.10" cy="832.40" r="13.10" fill="url(#gH2)" clip-path="url(#cp21)"/>
<clipPath id="cp22"><polygon points="1519.50,789.10 1629.62,789.10 1557.40,909.10 1519.50,909.10"/></clipPath>
<circle cx="1579.50" cy="849.10" r="16.40" fill="url(#gOd)" clip-path="url(#cp22)"/>
<clipPath id="cp23"><polygon points="1682.90,826.93 1682.90,911.00 1641.16,911.00 1606.32,842.58"/></clipPath>
<circle cx="1622.90" cy="851.00" r="15.40" fill="url(#gOd)" clip-path="url(#cp23)"/>
<clipPath id="cp24"><polygon points="1647.60,922.10 1548.76,922.10 1602.30,833.14"/></clipPath>
<circle cx="1601.10" cy="862.10" r="17.80" fill="url(#gCd)" clip-path="url(#cp24)"/>
<path d="M1668.5,855.5 C1675.3,859.9 1682.7,865.4 1688.8,868.8 C1694.9,872.2 1700.2,874.4 1705.3,875.8 C1710.4,877.2 1714.4,877.4 1719.2,877.4 C1724.0,877.4 1728.9,877.0 1734.4,875.8 C1739.9,874.6 1746.1,872.2 1752.2,870.1 C1758.3,868.0 1764.6,865.4 1771.2,863.1 C1777.8,860.8 1785.1,858.7 1792.0,856.5" fill="none" stroke="#0B2A3C" stroke-width="3.9" stroke-linecap="butt"/>
<polyline points="1786.5,864.5 1792.3,856.4 1782.2,853.5" fill="none" stroke="#0B2A3C" stroke-width="3.8" stroke-linecap="round" stroke-linejoin="miter" stroke-miterlimit="10"/>
<text transform="translate(1685.60,847.10) scale(1,0.975)" font-size="30.5" text-anchor="start" font-weight="normal" letter-spacing="-1.75">CO<tspan font-size="18" dy="7">2</tspan><tspan dy="-7">RR</tspan></text>
<text transform="translate(1814.20,777.90) scale(1,1.02)" font-size="24" text-anchor="start" font-weight="normal" letter-spacing="-0.8">CO</text>
<clipPath id="cp25"><polygon points="1772.20,771.40 1804.79,771.40 1892.20,886.06 1892.20,891.40 1772.20,891.40"/></clipPath>
<circle cx="1832.20" cy="831.40" r="19.50" fill="url(#gCd)" clip-path="url(#cp25)"/>
<clipPath id="cp26"><polygon points="1792.40,756.00 1912.40,756.00 1912.40,876.00 1883.65,876.00 1792.40,756.31"/></clipPath>
<circle cx="1852.40" cy="816.00" r="17.40" fill="url(#gOd)" clip-path="url(#cp26)"/>
<text transform="translate(1603.00,978.90) scale(1,0.9)" font-size="30" text-anchor="middle" font-weight="normal" >Glycine-free catalyst</text>
<text transform="translate(1603.20,1015.20) scale(1,0.9)" font-size="30" text-anchor="middle" font-weight="normal" >(moderate CO<tspan font-size="21" dy="6.8">2</tspan><tspan dy="-6.8"> adsorption)</tspan></text>
</svg>
</div>
</body></html>
